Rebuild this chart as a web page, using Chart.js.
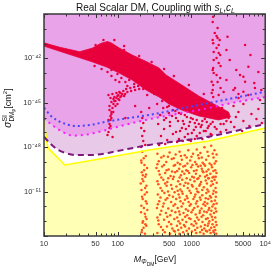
<!DOCTYPE html>
<html>
<head>
<meta charset="utf-8">
<script src="https://cdn.jsdelivr.net/npm/chart.js@4.4.0/dist/chart.umd.min.js"></script>
<style>
    html, body { margin: 0; padding: 0; background: #fff; }
</style>
</head>
<body>
<canvas id="grafico" width="274" height="268"></canvas>
<script>
// Eixos: massa do DM (GeV) e seção de choque SI (cm^2), valores de y guardados como expoentes log10
const marcasX = [10, 50, 100, 500, 1000, 5000, 10000];
const rotulosX = ["10", "50", "100", "500", "1000", "5000", "10⁴"];
const marcasY = [1e-51, 1e-48, 1e-45, 1e-42];
const rotulosY = ["10⁻⁵¹", "10⁻⁴⁸", "10⁻⁴⁵", "10⁻⁴²"];

// Curvas de limite
const massaAzul = [10, 12.05, 14.8, 20.2, 27.5, 41.6, 69.8, 116.7, 266.7, 1256, 10000];
const expAzul = [-45.33, -45.82, -46.16, -46.45, -46.57, -46.50, -46.28, -46.09, -45.82, -45.15, -44.25];

const massaMagenta = [10, 12.05, 14.8, 18.2, 24.8, 33.8, 46.0, 69.8, 90.2, 266.7, 1256, 4336, 10000];
const expMagenta = [-46.05, -46.39, -46.72, -46.99, -47.22, -47.18, -47.06, -46.84, -46.68, -46.11, -45.49, -44.93, -44.61];

const massaTracejada = [10, 12.05, 15.6, 20.2, 27.5, 41.6, 69.8, 90.2, 266.7, 1711, 10000];
const expTracejada = [-47.29, -47.74, -48.19, -48.41, -48.53, -48.53, -48.41, -48.30, -47.85, -47.29, -46.43];

const massaAmarela = [10, 10.9, 11.4, 12.7, 15.6, 19.2, 56.6, 267, 1711, 10000];
const expAmarela = [-46.2, -47.63, -48.07, -48.30, -48.75, -49.20, -48.80, -48.19, -47.58, -46.70];

// Faixa densa de pontos (contorno: borda de cima e depois a de baixo)
const massaFaixa = [10, 16.4, 30.5, 45.6, 58.5, 72.6, 82.2, 105, 157, 243, 364, 452, 741, 1256, 2000, 3177,
    3381, 2333, 1256, 741, 495, 364, 243, 157, 105, 70.5, 45.6, 30.5, 16.4, 10];
const expFaixa = [-40.95, -41.25, -41.55, -41.30, -40.99, -40.86, -40.96, -41.30, -41.77, -42.21, -42.65, -43.12, -43.80, -44.54, -45.08, -45.62,
    -45.96, -46.16, -45.89, -45.49, -45.08, -44.61, -44.14, -43.46, -42.99, -42.58, -42.24, -41.95, -41.52, -41.17];

// Pontos acima da curva amarela [massa, expoente]
const pontosAcima = [
    // ressonância perto de 80-110 GeV
    [75, -46.97], [77.3, -46.70], [77.3, -46.43], [79.7, -46.16], [79.7, -45.89], [82.2, -45.62], [84.8, -45.35],
    [87.4, -45.08], [90.1, -44.88], [96, -44.68], [102, -44.47], [108.6, -44.34], [119, -44.20], [130, -44.07],
    [148, -44.00], [167, -43.93], [189, -43.86], [215, -43.86], [243, -43.86], [105, -44.81], [99, -45.08],
    [112, -44.54], [126, -44.41], [82, -46.03], [87, -45.62], [93, -45.22], [85, -47.31],
    [74.8, -44.47], [79.7, -44.68], [84.8, -44.41], [90.1, -44.61], [96, -44.34], [102, -44.74], [82.2, -44.95],
    [93, -44.88], [99, -44.54], [108.6, -44.61], [115, -44.41], [77.3, -45.22], [87.4, -44.74], [105, -44.27],
    [122, -44.54], [135, -44.27], [152, -44.20], [172, -44.14], [195, -44.07], [222, -44.07], [77.3, -45.49],
    [82.2, -45.76], [74.8, -46.16], [79.7, -46.57], [72.6, -47.18],
    // abaixo da faixa
    [72.6, -42.92], [82.2, -43.19], [93, -43.46], [99, -43.05], [112, -43.32], [127, -43.59], [143, -43.46],
    [167, -43.73], [195, -43.59], [229, -44.00], [267, -44.14], [312, -44.41], [82.2, -42.78], [105, -43.59],
    [135, -43.86], [48.5, -42.51], [60.4, -42.72],
    [50, -41.09], [64, -40.76], [90, -40.76], [122, -41.16],
    [195, -41.84], [288, -42.24], [425, -42.72], [577, -43.19], [922, -43.80], [1470, -44.41], [122, -41.43],
    // faixa vertical perto de 2 TeV
    [1970, -39.18], [2190, -40.49], [2260, -40.62], [3080, -40.53], [1970, -40.98], [2190, -41.30], [2340, -41.64],
    [2450, -41.77], [2980, -41.43], [5330, -41.09], [2000, -42.11], [2340, -42.31], [1970, -42.65], [4550, -43.12],
    [5060, -43.24], [5910, -42.56], [2000, -42.99], [2190, -43.12], [2450, -43.32], [1880, -43.57], [1970, -43.80],
    [2980, -43.46], [3710, -44.14], [3900, -44.00], [5330, -43.57], [7100, -43.66], [7250, -44.00], [8850, -44.14],
    [5060, -44.25], [1880, -44.34], [1970, -44.61], [1940, -40.76], [2340, -41.09],
    [1940, -39.54], [2260, -39.95], [2070, -40.28], [2410, -40.76], [2000, -41.57], [2190, -41.97], [2480, -42.51],
    [1940, -42.78], [2260, -43.59], [2480, -44.00], [1940, -44.14], [2340, -44.47], [3300, -42.11], [4050, -42.78],
    [6300, -41.77], [8070, -42.92], [2730, -44.27], [4340, -44.41],
    // entre a faixa e a curva amarela
    [208, -45.62], [215, -46.03], [222, -46.36], [208, -46.70], [229, -46.91], [215, -47.24], [222, -47.58],
    [236, -47.85], [208, -47.99],
    [342, -45.08], [414, -45.35], [494, -45.22], [605, -45.55], [720, -45.76], [866, -45.96], [1040, -46.09],
    [1405, -46.23], [1820, -46.43],
    [375, -45.82], [452, -46.03], [545, -45.89], [656, -46.23], [788, -46.43], [952, -46.30], [1145, -46.64],
    [1375, -46.50], [1660, -46.70], [2070, -46.64],
    [353, -46.43], [425, -46.77], [510, -46.57], [617, -46.97], [741, -46.70], [894, -47.11], [1075, -46.84],
    [1295, -47.04], [1560, -46.91], [1880, -47.18],
    [386, -47.24], [468, -47.51], [560, -47.11], [676, -47.45], [812, -47.31], [980, -47.58], [1180, -47.24],
    [1405, -47.45], [1711, -47.31],
    [364, -47.85], [440, -47.78], [527, -47.65], [637, -47.65], [765, -47.58], [922, -47.51], [1110, -47.45],
    [401, -44.88], [468, -45.28], [560, -45.49], [676, -45.69], [812, -45.82], [980, -46.03], [1180, -46.16],
    [1515, -46.09], [1940, -46.30], [2480, -46.43], [2980, -46.23], [494, -45.69], [617, -46.03], [765, -46.23],
    [922, -46.57], [1110, -46.36], [1335, -46.64], [1711, -46.57], [2190, -46.77], [425, -46.16], [510, -46.30],
    [700, -46.91], [840, -46.77], [1010, -47.04], [1470, -46.91], [1820, -47.11], [1256, -46.43], [1610, -46.30],
    [2070, -46.03], [2600, -45.89],
    [2600, -45.35], [3177, -46.03], [3712, -45.22], [4336, -45.62], [5060, -45.08], [6500, -45.76], [8070, -45.42],
    [2730, -46.43], [3420, -46.30], [4000, -45.96], [5060, -46.23], [6100, -46.57], [7600, -46.09], [9000, -46.36],
    [2950, -46.84], [3800, -46.64], [4850, -46.91], [2480, -46.97], [4340, -44.68], [5900, -44.47], [8500, -44.81],
    [127, -46.03], [172, -45.22], [251, -44.47], [290, -44.27], [267, -45.35]
];

// Pontos abaixo da curva amarela [massa, expoente]
const pontosAbaixo = [
    // faixa estreita perto de 220 GeV
    [215, -48.3], [240, -48.6], [208, -48.9], [230, -49.2], [250, -49.4], [212, -49.7], [236, -50.0], [222, -50.3],
    [245, -50.6], [210, -50.9], [232, -51.2], [218, -51.5], [248, -51.8], [226, -52.1], [207, -52.4], [238, -52.7],
    [220, -53.0], [244, -53.3], [213, -53.6], [234, -53.85], [228, -49.55], [205, -50.45], [252, -52.25], [217, -53.1],
    [225, -48.75], [210, -49.05], [242, -49.85], [216, -50.15], [235, -50.75], [248, -51.05], [214, -51.35],
    [240, -51.65], [209, -51.95], [233, -52.5], [246, -52.85], [224, -53.45], [211, -53.75], [237, -53.2], [219, -49.9],
    // faixa larga 350 GeV - 2.2 TeV
    [345, -48.45], [420, -48.6], [505, -48.35], [610, -48.5], [690, -48.3], [810, -48.55], [905, -48.2], [1050, -48.45],
    [1180, -48.15], [1320, -48.4], [1500, -48.0], [1650, -48.3], [1850, -47.9], [2050, -48.2],
    [390, -48.7], [480, -48.65], [575, -48.75], [720, -48.6], [860, -48.7], [1000, -48.65], [1230, -48.55],
    [1380, -48.7], [1700, -48.6], [1940, -48.45], [2190, -48.5],
    [360, -48.95], [455, -49.0], [540, -48.8], [650, -49.05], [740, -48.85], [880, -49.1], [960, -48.9], [1120, -49.0],
    [1260, -48.75], [1420, -49.05], [1580, -48.85], [1760, -49.1], [1990, -48.7], [2150, -48.95],
    [345, -49.15], [425, -49.2], [600, -49.2], [700, -49.15], [820, -49.25], [1030, -49.2], [1170, -49.15],
    [1330, -49.25], [1480, -49.15], [1860, -49.2], [2060, -49.1],
    [335, -49.4], [400, -49.3], [490, -49.5], [575, -49.25], [680, -49.45], [775, -49.3], [850, -49.55], [990, -49.35],
    [1080, -49.6], [1230, -49.3], [1380, -49.45], [1530, -49.25], [1700, -49.5], [1900, -49.35], [2100, -49.55],
    [360, -49.6], [460, -49.55], [545, -49.65], [640, -49.6], [750, -49.65], [890, -49.6], [1170, -49.55],
    [1410, -49.6], [1600, -49.65], [1980, -49.6],
    [370, -49.85], [440, -49.75], [520, -49.95], [600, -49.7], [720, -49.9], [800, -49.8], [930, -49.75], [1020, -50.0],
    [1150, -49.8], [1300, -49.95], [1450, -49.7], [1620, -49.9], [1800, -49.8], [2000, -50.0], [2180, -49.75],
    [390, -50.05], [485, -50.1], [575, -50.0], [690, -50.05], [860, -50.1], [1080, -50.05], [1240, -50.1],
    [1530, -50.0], [1690, -50.1], [1930, -50.05], [2130, -50.0],
    [345, -50.3], [415, -50.2], [470, -50.35], [560, -50.15], [660, -50.3], [750, -50.2], [830, -50.4], [960, -50.2],
    [1100, -50.3], [1200, -50.15], [1350, -50.35], [1560, -50.25], [1720, -50.1], [1880, -50.3], [2060, -50.2],
    [355, -50.5], [440, -50.45], [530, -50.55], [700, -50.5], [900, -50.45], [1010, -50.55], [1310, -50.5],
    [1620, -50.45], [1950, -50.5], [2200, -50.4],
    [380, -50.75], [460, -50.6], [545, -50.8], [625, -50.65], [705, -50.85], [790, -50.6], [890, -50.75], [1040, -50.65],
    [1170, -50.8], [1280, -50.6], [1470, -50.7], [1640, -50.85], [1830, -50.6], [2120, -50.75],
    [400, -50.95], [480, -51.0], [650, -50.95], [740, -51.0], [940, -50.95], [1200, -51.0], [1400, -50.9],
    [1700, -51.0], [2000, -50.95],
    [350, -51.2], [430, -51.1], [500, -51.25], [590, -51.05], [670, -51.2], [760, -51.15], [860, -51.3], [980, -51.1],
    [1130, -51.2], [1240, -51.05], [1400, -51.25], [1590, -51.1], [1780, -51.3], [1960, -51.15], [2150, -51.05],
    [380, -51.4], [470, -51.45], [560, -51.35], [690, -51.4], [880, -51.45], [1100, -51.35], [1300, -51.4],
    [1560, -51.45], [1840, -51.4], [2140, -51.35],
    [365, -51.65], [445, -51.55], [530, -51.7], [620, -51.5], [710, -51.65], [815, -51.55], [915, -51.7], [1060, -51.5],
    [1190, -51.65], [1330, -51.55], [1510, -51.7], [1690, -51.5], [1870, -51.65], [2080, -51.6],
    [350, -51.85], [420, -51.8], [600, -51.85], [770, -51.8], [980, -51.85], [1150, -51.8], [1450, -51.85],
    [1640, -51.8], [2000, -51.85], [2190, -51.8],
    [340, -52.1], [410, -52.0], [485, -52.15], [570, -51.95], [650, -52.1], [735, -52.0], [840, -52.2], [945, -51.95],
    [1090, -52.1], [1215, -52.0], [1370, -52.15], [1540, -51.95], [1740, -52.1], [1920, -52.0], [2110, -52.15],
    [390, -52.3], [540, -52.3], [680, -52.35], [900, -52.3], [1040, -52.25], [1300, -52.3], [1490, -52.35],
    [1700, -52.25], [1860, -52.3], [2170, -52.35],
    [375, -52.55], [450, -52.45], [515, -52.6], [605, -52.4], [695, -52.55], [780, -52.45], [875, -52.6], [1000, -52.4],
    [1140, -52.55], [1290, -52.45], [1440, -52.6], [1610, -52.4], [1810, -52.55], [2020, -52.45],
    [345, -52.75], [470, -52.7], [640, -52.75], [820, -52.7], [930, -52.8], [1190, -52.75], [1370, -52.7],
    [1660, -52.8], [1890, -52.7], [2100, -52.75],
    [355, -52.95], [425, -52.9], [495, -53.05], [585, -52.85], [665, -53.0], [755, -52.9], [850, -53.05], [970, -52.85],
    [1110, -53.0], [1250, -52.9], [1410, -53.05], [1570, -52.85], [1750, -53.0], [1940, -52.9], [2140, -53.05],
    [360, -53.2], [530, -53.2], [700, -53.15], [790, -53.25], [1000, -53.2], [1160, -53.15], [1520, -53.25],
    [1700, -53.15], [1930, -53.2], [2190, -53.25],
    [385, -53.4], [465, -53.35], [550, -53.5], [635, -53.3], [725, -53.45], [820, -53.35], [925, -53.5], [1070, -53.3],
    [1200, -53.45], [1340, -53.35], [1490, -53.5], [1660, -53.3], [1850, -53.45], [2040, -53.4],
    [410, -53.6], [575, -53.65], [660, -53.6], [860, -53.65], [1120, -53.6], [1390, -53.6], [1570, -53.65],
    [1760, -53.6], [1980, -53.65], [2100, -53.6],
    [345, -53.8], [435, -53.75], [510, -53.85], [595, -53.7], [685, -53.85], [770, -53.75], [895, -53.85], [1015, -53.7],
    [1160, -53.8], [1310, -53.75], [1460, -53.85], [1630, -53.7], [1820, -53.8], [2000, -53.75], [2170, -53.85]
];

const FONTE = "'Liberation Sans', Arial, sans-serif";

function curva(massas, expoentes) {
    return massas.map((m, i) => ({ x: m, y: 10 ** expoentes[i] }));
}
function pares(lista) {
    return lista.map(([m, e]) => ({ x: m, y: 10 ** e }));
}

// Escreve texto com partes em itálico / sub / sobrescrito
function escreveRico(c, partes, x, y) {
    let total = 0;
    partes.forEach(p => {
        c.font = p.f;
        p.w = c.measureText(p.t).width;
        if (p.avanca !== false) total += p.w;
    });
    let px = x - total / 2;
    partes.forEach(p => {
        c.font = p.f;
        c.fillText(p.t, px, y + (p.dy || 0));
        if (p.avanca !== false) px += p.w;
    });
}

const textos = {
    id: "textos",
    afterDraw(chart) {
        const c = chart.ctx;
        c.save();
        c.fillStyle = "#111";
        c.textBaseline = "alphabetic";
        c.textAlign = "left";

        escreveRico(c, [
            { t: "Real Scalar DM, Coupling with ", f: `10px ${FONTE}` },
            { t: "s", f: `italic 10px ${FONTE}` },
            { t: "L", f: `italic 7px ${FONTE}`, dy: 2 },
            { t: ",", f: `10px ${FONTE}` },
            { t: "c", f: `italic 10px ${FONTE}` },
            { t: "L", f: `italic 7px ${FONTE}`, dy: 2 }
        ], 155.5, 11);

        escreveRico(c, [
            { t: "M", f: `italic 9px ${FONTE}` },
            { t: "Φ", f: `italic 6.5px ${FONTE}`, dy: 2 },
            { t: "DM", f: `5px ${FONTE}`, dy: 3.5 },
            { t: "[GeV]", f: `8.5px ${FONTE}` }
        ], 155, 262);

        c.translate(11, 108);
        c.rotate(-Math.PI / 2);
        escreveRico(c, [
            { t: "σ", f: `italic 10px ${FONTE}` },
            { t: "SI", f: `7px ${FONTE}`, dy: -4.5, avanca: false },
            { t: "DM", f: `6.5px ${FONTE}`, dy: 2.5 },
            { t: "p", f: `5px ${FONTE}`, dy: 4 },
            { t: "[cm", f: `9px ${FONTE}` },
            { t: "2", f: `6px ${FONTE}`, dy: -4 },
            { t: "]", f: `9px ${FONTE}` }
        ], 0, 0);
        c.restore();
    }
};

// Moldura com marcas para dentro nos quatro lados
const moldura = {
    id: "moldura",
    afterDraw(chart) {
        const c = chart.ctx;
        const a = chart.chartArea;
        const sx = chart.scales.x, sy = chart.scales.y;
        c.save();
        c.strokeStyle = "#333";
        c.lineWidth = 1;
        const traco = (x1, y1, x2, y2) => { c.beginPath(); c.moveTo(x1, y1); c.lineTo(x2, y2); c.stroke(); };
        for (let e = -54; e <= -39; e++) {
            const py = Math.round(sy.getPixelForValue(10 ** e)) + 0.5;
            const len = (e % 3 === 0) ? 4 : 2.5;
            traco(a.left, py, a.left + len, py);
            traco(a.right, py, a.right - len, py);
        }
        for (let d = 10; d < 10000; d *= 10) {
            for (let k = 1; k <= 9; k++) {
                const px = Math.round(sx.getPixelForValue(d * k)) + 0.5;
                const len = (k === 1 || k === 5) ? 4 : 2.5;
                traco(px, a.bottom, px, a.bottom - len);
                traco(px, a.top, px, a.top + len);
            }
        }
        c.lineWidth = 1.5;
        c.strokeStyle = "#3a3a3a";
        c.strokeRect(a.left, a.top, a.right - a.left, a.bottom - a.top);
        c.restore();
    }
};

const semBorda = "rgba(0,0,0,0)";

new Chart(document.getElementById("grafico"), {
    type: "scatter",
    data: {
        datasets: [
            { data: curva(massaTracejada, expTracejada), showLine: true, fill: "end", backgroundColor: "#e8cae8",
              borderColor: semBorda, borderWidth: 0, pointRadius: 0, order: 10 },
            { data: curva(massaMagenta, expMagenta), showLine: true, fill: "end", backgroundColor: "#e9a3e9",
              borderColor: semBorda, borderWidth: 0, pointRadius: 0, cubicInterpolationMode: "monotone", order: 9 },
            { data: curva(massaAmarela, expAmarela), showLine: true, fill: "start", backgroundColor: "#ffffb6",
              borderColor: semBorda, borderWidth: 0, pointRadius: 0, order: 8 },
            { data: curva(massaFaixa, expFaixa), showLine: true, fill: "shape", backgroundColor: "#e8003c",
              borderColor: "#e8003c", borderWidth: 0.8, pointRadius: 0, order: 7 },
            { data: pares(pontosAcima), pointRadius: 1.25, pointBorderWidth: 0, pointBackgroundColor: "#e8003c", order: 6 },
            { data: pares(pontosAbaixo), pointRadius: 1.25, pointBorderWidth: 0, pointBackgroundColor: "#ff5220", order: 5 },
            { data: curva(massaAmarela, expAmarela), showLine: true, borderColor: "#ffff00", borderWidth: 1.6,
              pointRadius: 0, order: 4 },
            { data: curva(massaTracejada, expTracejada), showLine: true, borderColor: "#7b1a7b", borderWidth: 2,
              borderDash: [6, 4], pointRadius: 0, cubicInterpolationMode: "monotone", order: 3 },
            { data: curva(massaMagenta, expMagenta), showLine: true, borderColor: "#ff1aff", borderWidth: 2,
              borderDash: [2, 4], pointRadius: 0, cubicInterpolationMode: "monotone", order: 2 },
            { data: curva(massaAzul, expAzul), showLine: true, borderColor: "#4646ff", borderWidth: 2,
              borderDash: [2, 3], pointRadius: 0, cubicInterpolationMode: "monotone", order: 1 }
        ]
    },
    options: {
        responsive: false,
        animation: false,
        events: [],
        layout: { padding: { top: 14, right: 7, left: 0, bottom: 0 }, autoPadding: false },
        plugins: { legend: { display: false }, tooltip: { enabled: false }, title: { display: false } },
        scales: {
            x: {
                type: "logarithmic", min: 10, max: 10000,
                afterBuildTicks: s => { s.ticks = marcasX.map(v => ({ value: v })); },
                afterFit: s => { s.height = 32; },
                grid: { display: false, drawTicks: false },
                border: { display: false },
                ticks: { callback: (v, i) => rotulosX[i], autoSkip: false, maxRotation: 0, padding: 3,
                         color: "#333", font: { family: FONTE, size: 7.5 } }
            },
            y: {
                type: "logarithmic", min: 1e-54, max: 1e-39,
                afterBuildTicks: s => { s.ticks = marcasY.map(v => ({ value: v })); },
                afterFit: s => { s.width = 44; },
                grid: { display: false, drawTicks: false },
                border: { display: false },
                ticks: { callback: (v, i) => rotulosY[i], autoSkip: false, padding: 3,
                         color: "#333", font: { family: FONTE, size: 7.5 } }
            }
        }
    },
    plugins: [moldura, textos]
});
</script>
</body>
</html>
